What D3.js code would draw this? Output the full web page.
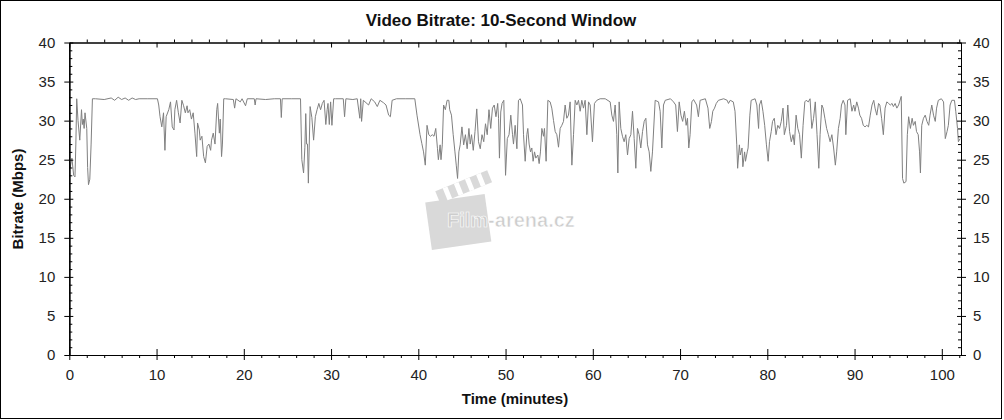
<!DOCTYPE html>
<html><head><meta charset="utf-8">
<script src="https://cdn.jsdelivr.net/npm/d3@7"></script>
<style>
html,body{margin:0;padding:0;background:#fff;}
svg{display:block;font-family:"Liberation Sans",Arial,sans-serif;}
</style></head>
<body><svg id="c" width="1004" height="420"></svg>
<script>
const titleText = "Video Bitrate: 10-Second Window";
const xLabel = "Time (minutes)";
const yLabel = "Bitrate (Mbps)";
const xTicks = [0,10,20,30,40,50,60,70,80,90,100];
const yTicks = [0,5,10,15,20,25,30,35,40];
const timeMin = [
0.0,0.1,0.3,0.5,0.65,0.75,0.85,1.0,1.2,1.4,1.5,1.6,1.7,1.8,2.0,2.1,2.2,2.35,2.5,2.65,
3.0,4.0,4.8,5.2,5.6,6.0,6.4,6.8,7.2,7.6,8.0,9.0,10.1,
10.25,10.4,10.6,10.8,10.96,11.1,11.4,11.6,11.8,12.0,12.1,12.3,12.5,12.7,12.9,13.1,13.3,13.5,13.6,13.8,14.0,14.2,14.4,14.6,14.7,14.9,15.0,15.2,15.4,15.6,15.8,16.0,16.2,16.3,16.5,16.7,16.9,17.0,17.2,17.3,17.45,17.55,17.7,
17.9,18.8,18.95,19.1,19.6,19.8,20.2,20.4,21.2,21.3,21.4,22.5,23.5,24.2,24.3,24.4,25.5,26.5,
26.65,26.85,27.0,27.1,27.2,27.3,27.4,27.6,27.8,28.0,28.2,28.4,28.6,28.8,29.0,29.2,29.4,29.55,29.65,29.8,29.95,30.1,30.3,
30.5,31.4,31.55,31.7,32.5,33.0,33.2,33.3,33.4,33.5,33.7,34.3,34.6,35.0,35.3,35.6,36.0,36.3,36.6,36.8,37.0,37.5,38.5,39.6,
39.85,40.2,40.4,40.6,40.8,41.0,41.2,41.4,41.6,41.8,42.0,42.2,42.3,42.5,42.6,42.75,42.9,43.1,43.3,43.5,43.6,43.8,44.0,44.2,44.35,44.5,44.65,44.8,45.0,45.2,45.4,45.6,45.8,45.95,46.1,46.3,46.5,46.7,46.9,47.1,47.3,47.5,47.7,47.9,48.1,48.3,48.5,48.7,48.9,49.1,49.2,49.3,49.45,49.6,49.8,50.0,50.2,50.4,50.6,50.8,
50.91,51.1,51.3,51.48,51.68,51.94,52.06,52.25,52.44,52.55,52.7,52.86,53.01,53.16,53.32,53.47,53.7,53.85,54.0,54.16,54.35,54.46,54.65,54.85,55.11,55.3,55.5,55.69,55.88,56.07,56.26,56.45,56.64,56.83,57.02,57.21,57.4,57.6,57.79,57.98,58.17,58.36,58.55,58.74,58.93,59.12,59.32,59.51,59.7,59.96,60.19,60.46,60.84,61.42,61.99,62.18,62.37,62.56,62.75,62.87,63.02,63.21,63.4,63.59,63.78,63.98,64.17,64.36,64.55,64.74,64.93,65.12,65.31,65.5,65.7,65.89,66.08,66.27,66.46,66.65,66.84,67.15,67.53,67.72,67.91,
68.1,68.3,68.9,69.25,69.5,69.7,69.9,70.1,70.3,70.5,70.7,70.85,71.0,71.15,71.35,71.55,71.9,72.1,72.3,72.9,73.2,73.4,73.6,73.75,73.95,74.15,74.4,75.0,75.4,75.55,75.75,76.1,76.3,76.5,76.6,76.8,76.9,77.1,77.2,77.4,77.5,77.7,77.8,78.0,78.15,78.6,78.8,79.0,79.1,79.3,79.5,79.7,79.9,80.1,80.25,80.45,80.6,80.8,81.0,81.2,81.4,81.6,81.8,81.95,82.2,82.35,82.55,82.75,82.95,83.1,83.3,83.5,83.7,83.9,84.1,84.3,84.45,84.7,84.9,85.1,
85.3,85.5,85.7,85.9,86.05,86.25,86.4,86.6,86.8,87.0,87.2,87.4,87.6,87.8,87.95,88.15,88.35,88.5,88.7,88.9,89.0,89.2,89.5,89.7,89.9,90.05,90.25,90.45,90.6,90.8,91.0,91.2,91.4,91.6,91.8,92.0,92.2,92.35,92.55,92.75,92.9,93.1,93.3,93.5,93.7,93.9,94.1,94.3,94.45,94.65,94.85,95.05,95.35,95.5,95.65,95.9,96.05,96.2,96.4,96.6,96.75,96.95,97.1,97.3,97.45,97.55,97.7,97.9,98.1,98.3,98.5,98.65,98.85,99.05,99.25,99.4,99.6,99.95,100.2,100.4,100.6,100.75,100.95,101.15,101.45,101.6,101.8,101.9,102.1
];
const bitrate = [
25.0,24.0,25.2,23.0,22.8,27.0,32.8,30.0,27.5,31.4,29.5,30.2,29.0,31.0,29.0,24.0,21.8,22.5,27.0,32.8,
32.8,32.7,32.9,32.6,33.0,32.7,32.9,32.6,32.9,32.7,32.8,32.8,32.8,
32.0,30.5,29.2,31.0,26.2,30.5,31.4,32.4,29.2,28.8,31.4,32.6,31.0,29.7,32.6,31.9,31.0,31.9,31.0,31.4,30.2,31.0,28.4,25.4,29.7,28.8,27.5,28.0,25.4,24.6,26.7,27.0,26.2,27.5,28.4,27.0,31.4,32.2,28.4,30.2,25.4,27.0,32.8,
32.8,32.7,31.6,32.8,32.4,32.8,31.9,32.8,32.8,32.0,32.8,32.7,32.8,32.8,30.4,32.8,32.8,32.8,
25.0,23.3,26.6,30.9,27.0,27.0,22.0,31.8,30.4,27.5,30.5,31.4,32.2,31.4,32.2,32.6,29.5,31.4,32.2,29.5,32.4,29.4,32.8,
32.8,32.8,30.5,32.8,32.7,32.8,31.1,30.3,32.8,29.9,32.6,32.0,32.8,32.4,31.8,32.6,32.3,32.0,30.7,30.5,32.6,32.8,32.8,32.8,
30.7,28.2,27.1,26.0,24.3,29.4,28.2,28.0,28.2,28.0,29.0,26.4,25.0,26.9,25.0,26.9,32.0,31.4,32.6,32.6,31.4,30.7,28.2,26.0,24.3,22.6,26.0,26.9,29.2,26.9,28.2,26.4,29.0,27.0,28.2,26.2,28.6,31.5,27.3,26.4,28.2,27.3,29.6,28.2,31.4,29.0,31.6,32.0,30.5,32.2,30.3,25.2,31.1,32.2,32.6,23.0,27.7,28.2,30.7,28.2,
27.0,29.4,26.4,32.6,32.8,32.0,28.2,24.8,28.2,29.0,27.0,26.0,26.5,24.8,26.0,25.2,25.6,24.5,26.0,29.0,28.0,29.0,24.8,32.6,32.4,31.6,30.0,28.6,28.2,26.6,29.0,29.4,29.9,32.0,30.3,30.7,32.4,24.3,28.2,32.6,32.0,32.6,31.2,32.6,31.6,32.6,28.2,32.4,32.0,27.3,32.2,32.6,32.8,32.8,32.4,30.7,29.9,32.0,28.2,23.3,32.4,29.0,28.0,27.3,28.2,25.6,27.7,28.2,31.2,27.7,23.9,29.0,28.2,26.5,28.6,29.9,30.3,26.9,26.0,23.5,26.0,32.6,32.4,31.2,26.5,
32.0,32.6,32.8,32.4,32.0,28.6,32.4,30.7,29.9,31.2,29.4,30.3,26.5,28.2,32.4,32.7,32.0,30.5,32.6,32.8,31.6,29.0,29.9,31.2,31.6,32.2,32.6,32.8,32.6,32.2,32.6,32.4,31.2,26.9,23.9,26.9,25.6,26.5,24.1,26.0,24.8,26.0,26.5,30.7,32.6,32.8,32.0,29.0,32.0,32.6,31.2,29.4,26.9,24.8,27.3,28.6,29.9,30.3,28.2,29.4,29.0,29.9,31.6,28.2,29.4,32.0,28.6,27.3,28.2,26.9,30.7,29.0,28.2,25.2,29.4,32.4,32.6,32.4,32.8,29.0,
30.3,32.4,28.2,23.9,28.2,32.0,31.6,30.3,29.0,28.2,27.3,28.2,26.5,24.3,26.0,29.0,30.3,32.0,32.6,32.0,28.2,32.6,32.8,31.2,32.0,31.2,32.4,31.6,30.7,30.3,29.4,29.2,29.4,29.2,30.7,32.0,32.6,31.6,30.7,32.2,32.0,30.3,28.2,31.6,32.4,32.2,32.0,32.2,31.8,32.2,31.6,32.0,33.1,22.6,22.0,22.2,28.2,30.5,29.0,30.3,29.4,29.9,28.6,28.2,26.0,23.3,29.4,30.3,30.7,29.9,29.4,30.7,32.0,30.7,29.9,31.6,32.6,32.8,32.4,27.7,28.6,29.4,32.0,32.6,32.6,31.2,29.0,27.3,27.7
];

const svg = d3.select("#c");
const W = 1004, H = 420;
const pLeft = 69.3, pRight = 961, pTop = 42.5, pBottom = 355;
const x = d3.scaleLinear().domain([0, 102.2]).range([pLeft, pRight]);
const y = d3.scaleLinear().domain([0, 40]).range([pBottom, pTop]);

svg.append("rect").attr("x",0).attr("y",0).attr("width",W).attr("height",H).attr("fill","#fff");
svg.append("rect").attr("x",0.5).attr("y",0.5).attr("width",1001).attr("height",418)
  .attr("fill","none").attr("stroke","#000").attr("stroke-width",1);

// watermark
const wm = svg.append("g");
wm.append("g").attr("transform","translate(458,220) rotate(-8)")
  .call(g=>{
    g.append("rect").attr("x",-30).attr("y",-22).attr("width",60).attr("height",48).attr("fill","#d9d9d9");
  });
wm.append("g").attr("transform","translate(462,188) rotate(-22)")
  .call(g=>{
    g.append("rect").attr("x",-26).attr("y",-7).attr("width",56).attr("height",13).attr("fill","#d9d9d9");
    [-18,-6,6,18].forEach(v=>g.append("rect").attr("x",v).attr("y",-7).attr("width",5).attr("height",13).attr("fill","#fff"));
  });
wm.append("text").attr("x",447).attr("y",227).attr("font-size",20).attr("font-weight","bold")
  .attr("fill","#cdcdcd").attr("stroke","#fff").attr("stroke-width",0.6).text("Film-arena.cz");

// line
const line = d3.line().x((d,i)=>x(timeMin[i])).y((d,i)=>y(bitrate[i]));
svg.append("path").datum(bitrate).attr("d",line).attr("fill","none")
  .attr("stroke","#808080").attr("stroke-width",1);

const fs = 15;
function styleAxis(g){
  g.selectAll(".domain").attr("stroke","#000");
  g.selectAll(".tick line").attr("stroke","#000");
  g.selectAll("text").attr("font-size",fs).attr("fill","#222").attr("font-family","\"Liberation Sans\",Arial,sans-serif");
}
const yMinor = d3.range(0,41,1).filter(v=>v%5!==0);
const xMinor = d3.range(0,103,2).filter(v=>v%10!==0);

// left axis
svg.append("g").attr("transform",`translate(${pLeft},0)`)
  .call(d3.axisLeft(y).tickValues(yTicks).tickSize(5).tickSizeOuter(0).tickPadding(9)).call(styleAxis);
svg.append("g").attr("transform",`translate(${pLeft},0)`)
  .call(d3.axisRight(y).tickValues(yTicks).tickSize(4).tickSizeOuter(0).tickFormat("")).call(styleAxis);
svg.append("g").attr("transform",`translate(${pLeft},0)`)
  .call(d3.axisRight(y).tickValues(yMinor).tickSize(3).tickSizeOuter(0).tickFormat("")).call(styleAxis);
// right axis
svg.append("g").attr("transform",`translate(${pRight},0)`)
  .call(d3.axisRight(y).tickValues(yTicks).tickSize(5).tickSizeOuter(0).tickPadding(7)).call(styleAxis);
svg.append("g").attr("transform",`translate(${pRight},0)`)
  .call(d3.axisLeft(y).tickValues(yTicks).tickSize(4).tickSizeOuter(0).tickFormat("")).call(styleAxis);
svg.append("g").attr("transform",`translate(${pRight},0)`)
  .call(d3.axisLeft(y).tickValues(yMinor).tickSize(3).tickSizeOuter(0).tickFormat("")).call(styleAxis);
// bottom axis
svg.append("g").attr("transform",`translate(0,${pBottom})`)
  .call(d3.axisBottom(x).tickValues(xTicks).tickSize(5).tickSizeOuter(0).tickPadding(9)).call(styleAxis);
svg.append("g").attr("transform",`translate(0,${pBottom})`)
  .call(d3.axisTop(x).tickValues(xTicks).tickSize(6).tickSizeOuter(0).tickFormat("")).call(styleAxis);
svg.append("g").attr("transform",`translate(0,${pBottom})`)
  .call(d3.axisBottom(x).tickValues(xMinor).tickSize(3).tickSizeOuter(0).tickFormat("")).call(styleAxis);
// top axis
svg.append("g").attr("transform",`translate(0,${pTop})`)
  .call(d3.axisBottom(x).tickValues(xTicks).tickSize(5).tickSizeOuter(0).tickFormat("")).call(styleAxis);
svg.append("g").attr("transform",`translate(0,${pTop})`)
  .call(d3.axisTop(x).tickValues(xMinor).tickSize(3).tickSizeOuter(0).tickFormat("")).call(styleAxis);

// titles
svg.append("text").attr("x",501).attr("y",26).attr("text-anchor","middle")
  .attr("font-size",17).attr("font-weight","bold").attr("fill","#111").text(titleText);
svg.append("text").attr("x",515).attr("y",404).attr("text-anchor","middle")
  .attr("font-size",15).attr("font-weight","bold").attr("fill","#111").text(xLabel);
svg.append("text").attr("transform","translate(23,199) rotate(-90)").attr("text-anchor","middle")
  .attr("font-size",15).attr("font-weight","bold").attr("fill","#111").text(yLabel);
</script></body></html>
